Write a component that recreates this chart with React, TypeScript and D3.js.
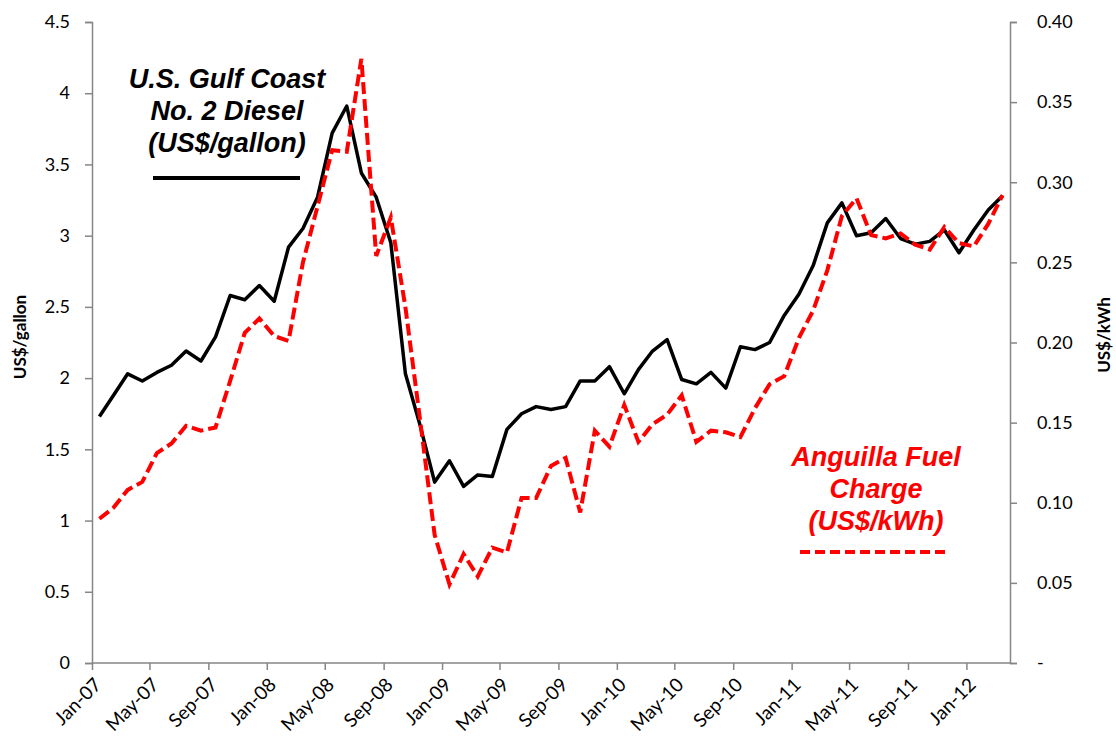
import React, { useRef, useEffect } from 'react';
import * as d3 from 'd3';

// monthly values, Jan-07 .. Mar-12
const diesel = [
  1.73, 1.88, 2.03, 1.98, 2.04, 2.09, 2.19, 2.12, 2.29, 2.58, 2.55, 2.65, 2.54,
  2.92, 3.05, 3.27, 3.72, 3.91, 3.44, 3.27, 2.95, 2.03, 1.67, 1.27, 1.42, 1.24,
  1.32, 1.31, 1.64, 1.75, 1.80, 1.78, 1.80, 1.98, 1.98, 2.08, 1.89, 2.06, 2.19,
  2.27, 1.99, 1.96, 2.04, 1.93, 2.22, 2.20, 2.25, 2.44, 2.59, 2.79, 3.09, 3.23,
  3.00, 3.02, 3.12, 2.98, 2.94, 2.96, 3.04, 2.88, 3.04, 3.18, 3.28,
];

const fuelCharge = [
  0.090, 0.097, 0.108, 0.113, 0.131, 0.137, 0.148, 0.145, 0.147, 0.176, 0.206,
  0.215, 0.204, 0.201, 0.250, 0.285, 0.320, 0.319, 0.377, 0.254, 0.278, 0.222,
  0.152, 0.080, 0.049, 0.068, 0.054, 0.072, 0.069, 0.103, 0.103, 0.123, 0.128,
  0.094, 0.145, 0.135, 0.161, 0.138, 0.149, 0.155, 0.167, 0.138, 0.145, 0.144,
  0.141, 0.159, 0.174, 0.179, 0.203, 0.220, 0.245, 0.279, 0.290, 0.267, 0.265,
  0.268, 0.261, 0.258, 0.272, 0.262, 0.260, 0.274, 0.292,
];

const leftTicks = [0, 0.5, 1, 1.5, 2, 2.5, 3, 3.5, 4, 4.5];
const rightTicks = [0, 0.05, 0.1, 0.15, 0.2, 0.25, 0.3, 0.35, 0.4];
const dieselLabel = ['U.S. Gulf Coast', 'No. 2 Diesel', '(US$/gallon)'];
const chargeLabel = ['Anguilla Fuel', 'Charge', '(US$/kWh)'];

const months = d3.timeMonth.range(new Date(2007, 0, 1), new Date(2012, 3, 1));

const App = () => {
  const chartRef = useRef<HTMLDivElement>(null);

  useEffect(() => {
    document.body.style.margin = '0';
    document.body.style.overflow = 'hidden';
    drawChart();
  }, []);

  const drawChart = () => {
    const width = 1116;
    const height = 744;
    const left = 92;
    const right = 1010;
    const top = 22;
    const bottom = 663;
    const tickFont = 'Lato, "Open Sans", sans-serif';
    const labelFont = '"Liberation Sans", Arial, sans-serif';
    const axisColor = '#868686';

    d3.select(chartRef.current).selectAll('*').remove();

    const svg = d3
      .select(chartRef.current)
      .append('svg')
      .attr('width', width)
      .attr('height', height)
      .style('display', 'block');

    const x = d3
      .scaleTime()
      .domain([months[0], d3.timeMonth.offset(months[months.length - 1], 1)])
      .range([left, right]);
    const xMid = (m: Date) => (x(m) + x(d3.timeMonth.offset(m, 1))) / 2;

    const yL = d3.scaleLinear().domain([0, 4.5]).range([bottom, top]);
    const yR = d3.scaleLinear().domain([0, 0.4]).range([bottom, top]);

    // left axis
    const gL = svg
      .append('g')
      .attr('transform', `translate(${left},0)`)
      .call(d3.axisLeft(yL).tickValues(leftTicks).tickSize(7).tickPadding(15).tickFormat(d3.format('')));

    // right axis
    const gR = svg
      .append('g')
      .attr('transform', `translate(${right},0)`)
      .call(
        d3
          .axisRight(yR)
          .tickValues(rightTicks)
          .tickSize(7)
          .tickPadding(20)
          .tickFormat((d) => (+d === 0 ? '-' : d3.format('.2f')(+d)))
      );

    // bottom axis
    const gB = svg
      .append('g')
      .attr('transform', `translate(0,${bottom})`)
      .call(
        d3
          .axisBottom(x)
          .ticks(d3.timeMonth.every(4))
          .tickSize(7)
          .tickFormat(d3.timeFormat('%b-%y') as any)
      );

    [gL, gR, gB].forEach((g) => {
      g.select('.domain').attr('stroke', axisColor).attr('stroke-width', 1.5);
      g.selectAll('.tick line').attr('stroke', axisColor).attr('stroke-width', 1.5);
      g.selectAll('.tick text')
        .attr('fill', '#000')
        .style('font-family', tickFont)
        .style('font-size', '18px');
    });
    gB.select('.domain').attr('d', `M${left},0H${right}`);

    gB.selectAll('.tick text')
      .attr('text-anchor', 'end')
      .attr('x', 0)
      .attr('y', 0)
      .attr('dy', 0)
      .style('font-size', '19px')
      .attr('transform', 'translate(10,23) rotate(-45)');

    // axis titles
    svg
      .append('text')
      .attr('transform', 'translate(26,337) rotate(-90)')
      .attr('text-anchor', 'middle')
      .style('font-family', tickFont)
      .style('font-size', '17px')
      .style('font-weight', 'bold')
      .text('US$/gallon');

    svg
      .append('text')
      .attr('transform', 'translate(1110,335) rotate(-90)')
      .attr('text-anchor', 'middle')
      .style('font-family', tickFont)
      .style('font-size', '17px')
      .style('font-weight', 'bold')
      .text('US$/kWh');

    // series
    const lineL = d3
      .line<number>()
      .x((d, i) => xMid(months[i]))
      .y((d) => yL(d));
    const lineR = d3
      .line<number>()
      .x((d, i) => xMid(months[i]))
      .y((d) => yR(d));

    svg
      .append('path')
      .datum(diesel)
      .attr('d', lineL)
      .attr('fill', 'none')
      .attr('stroke', '#000')
      .attr('stroke-width', 3.5)
      .attr('stroke-linejoin', 'round');

    svg
      .append('path')
      .datum(fuelCharge)
      .attr('d', lineR)
      .attr('fill', 'none')
      .attr('stroke', '#ff0000')
      .attr('stroke-width', 4)
      .attr('stroke-dasharray', '12,5');

    // annotations
    const note = (lines: string[], cx: number, y0: number, color: string) => {
      svg
        .append('g')
        .selectAll('text')
        .data(lines)
        .enter()
        .append('text')
        .attr('x', cx)
        .attr('y', (d, i) => y0 + i * 32)
        .attr('text-anchor', 'middle')
        .attr('fill', color)
        .style('font-family', labelFont)
        .style('font-size', '27px')
        .style('font-weight', 'bold')
        .style('font-style', 'italic')
        .text((d) => d);
    };
    note(dieselLabel, 227, 88, '#000');
    note(chargeLabel, 876, 466, '#ff0000');

    svg
      .append('line')
      .attr('x1', 153)
      .attr('x2', 300)
      .attr('y1', 178)
      .attr('y2', 178)
      .attr('stroke', '#000')
      .attr('stroke-width', 4);

    svg
      .append('line')
      .attr('x1', 800)
      .attr('x2', 947)
      .attr('y1', 552)
      .attr('y2', 552)
      .attr('stroke', '#ff0000')
      .attr('stroke-width', 4)
      .attr('stroke-dasharray', '10,5');
  };

  return <div ref={chartRef}></div>;
};

export default App;
